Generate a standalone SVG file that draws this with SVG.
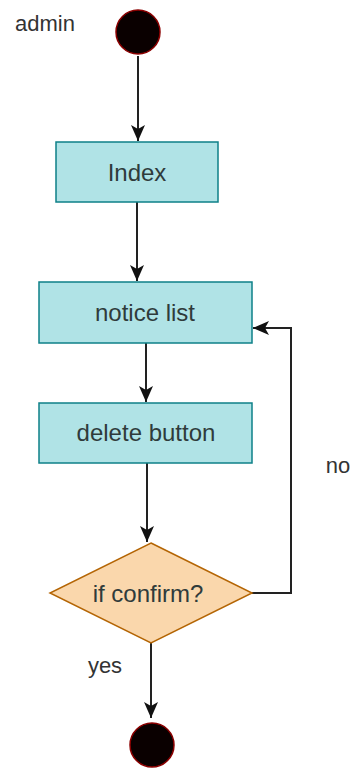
<svg xmlns="http://www.w3.org/2000/svg" width="356" height="771" viewBox="0 0 356 771">
<defs>
<style>
.box{fill:#b0e3e6;stroke:#0e8088;stroke-width:1.5}
.dia{fill:#fad7ac;stroke:#b46504;stroke-width:1.5}
.dot{fill:#0a0000;stroke:#8b0000;stroke-width:1.5}
.t{font-family:"Liberation Sans",Arial,sans-serif;font-size:24px;fill:#2f3b3b;text-anchor:middle}
.l{font-family:"Liberation Sans",Arial,sans-serif;font-size:22px;fill:#333;text-anchor:middle}
.c{fill:none;stroke:#222;stroke-width:2;marker-end:url(#arr)}
</style>
<marker id="arr" viewBox="0 0 16 14" refX="16" refY="7" markerWidth="16" markerHeight="14" markerUnits="userSpaceOnUse" orient="auto">
<path d="M0,0 L16,7 L0,14 L4,7 Z" fill="#111"/>
</marker>
</defs>
<rect width="356" height="771" fill="#fff"/>
<g id="connectors">
<path class="c" d="M138,56 L138,141"/>
<path class="c" d="M137,202 L137,281"/>
<path class="c" d="M146,343 L146,402"/>
<path class="c" d="M147,463 L147,542"/>
<path class="c" d="M252,593 L291,593 L291,328 L253,328"/>
<path class="c" d="M151,643 L151,718"/>
</g>
<g id="label-admin"><text class="l" x="45" y="31">admin</text></g>
<g id="start"><circle class="dot" cx="138" cy="32" r="22"/></g>
<g id="index"><rect class="box" x="56" y="142" width="162" height="60"/><text class="t" x="137" y="181">Index</text></g>
<g id="notice-list"><rect class="box" x="39" y="282" width="213" height="61"/><text class="t" x="145" y="321">notice list</text></g>
<g id="delete-button"><rect class="box" x="39" y="403" width="213" height="60"/><text class="t" x="146" y="441">delete button</text></g>
<g id="if-confirm"><polygon class="dia" points="151,543 252,593 151,643 50,593"/><text class="t" x="148" y="602">if confirm?</text></g>
<g id="label-no"><text class="l" x="338" y="473">no</text></g>
<g id="label-yes"><text class="l" x="105" y="673">yes</text></g>
<g id="end"><circle class="dot" cx="152" cy="745" r="22"/></g>
</svg>
